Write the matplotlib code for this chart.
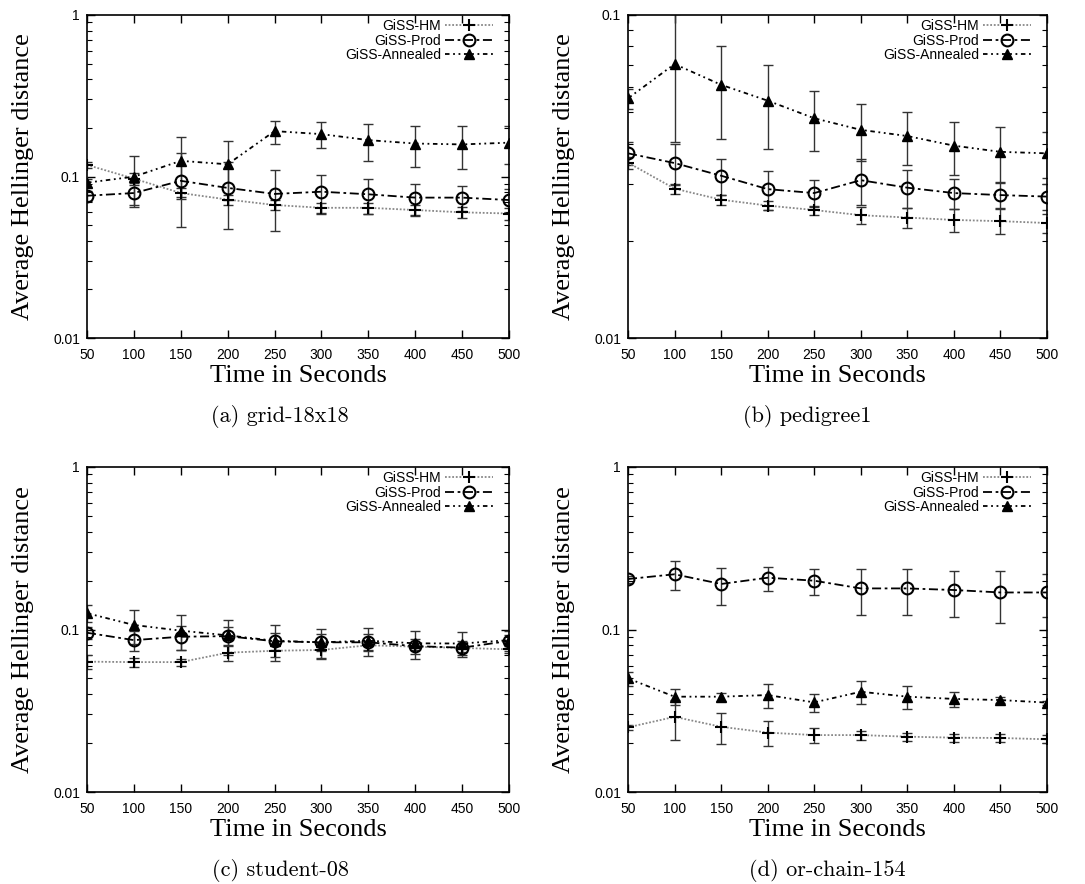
import numpy as np
import matplotlib.pyplot as plt
from matplotlib.ticker import LogLocator, NullFormatter, FixedLocator, FuncFormatter

# time budget (seconds) on the x axis
times = [50, 100, 150, 200, 250, 300, 350, 400, 450, 500]

# (a) grid-18x18
grid_hm = [0.118, 0.097, 0.079, 0.072, 0.0666, 0.064, 0.064, 0.062, 0.060, 0.059]
grid_hm_err = [0.005, 0.008, 0.006, 0.005, 0.005, 0.005, 0.005, 0.005, 0.005, 0.005]
grid_prod = [0.076, 0.079, 0.094, 0.085, 0.078, 0.0805, 0.0776, 0.074, 0.074, 0.0715]
grid_prod_err = [0.005, 0.012, 0.045, 0.038, 0.032, 0.021, 0.019, 0.016, 0.013, 0.012]
grid_ann = [0.0916, 0.0997, 0.125, 0.119, 0.191, 0.183, 0.168, 0.160, 0.158, 0.162]
grid_ann_err = [0.005, 0.035, 0.05, 0.047, 0.031, 0.033, 0.044, 0.045, 0.046, 0.043]

# (b) pedigree1
ped_hm = [0.0349, 0.0290, 0.0268, 0.0257, 0.0249, 0.0240, 0.0236, 0.0232, 0.0230, 0.0227]
ped_hm_err = [0.0015, 0.001, 0.001, 0.0008, 0.0008, 0.0014, 0.0017, 0.0019, 0.002, 0.0015]
ped_prod = [0.0373, 0.0348, 0.0318, 0.0289, 0.0281, 0.0308, 0.0292, 0.0281, 0.0277, 0.0274]
ped_prod_err = [0.003, 0.005, 0.004, 0.004, 0.0027, 0.005, 0.004, 0.003, 0.0025, 0.0025]
ped_ann = [0.0552, 0.0705, 0.0608, 0.0543, 0.0479, 0.0441, 0.0422, 0.0394, 0.0377, 0.0373]
ped_ann_err = [0.004, 0.030, 0.0196, 0.0157, 0.0101, 0.0089, 0.0078, 0.0074, 0.0072, 0.006]

# (c) student-08
stu_hm = [0.0634, 0.063, 0.063, 0.072, 0.074, 0.0748, 0.080, 0.0784, 0.077, 0.0755]
stu_hm_err = [0.006, 0.004, 0.003, 0.008, 0.006, 0.008, 0.005, 0.004, 0.004, 0.004]
stu_prod = [0.0955, 0.086, 0.0903, 0.091, 0.0846, 0.0834, 0.0834, 0.079, 0.0773, 0.085]
stu_prod_err = [0.008, 0.012, 0.015, 0.012, 0.01, 0.01, 0.01, 0.008, 0.008, 0.008]
stu_ann = [0.126, 0.1066, 0.0984, 0.092, 0.0853, 0.0834, 0.0853, 0.0822, 0.082, 0.086]
stu_ann_err = [0.015, 0.025, 0.024, 0.022, 0.021, 0.018, 0.017, 0.016, 0.014, 0.012]

# (d) or-chain-154
orc_hm = [0.025, 0.029, 0.0252, 0.0232, 0.0224, 0.0224, 0.0219, 0.0216, 0.0215, 0.0211]
orc_hm_err = [0.001, 0.008, 0.0055, 0.004, 0.0025, 0.0015, 0.0012, 0.0012, 0.0013, 0.0012]
orc_prod = [0.2045, 0.2187, 0.1906, 0.2083, 0.1997, 0.179, 0.179, 0.175, 0.169, 0.169]
orc_prod_err = [0.01, 0.044, 0.049, 0.035, 0.037, 0.056, 0.056, 0.055, 0.06, 0.05]
orc_ann = [0.050, 0.0386, 0.0386, 0.0395, 0.0356, 0.0414, 0.0386, 0.0374, 0.0368, 0.0355]
orc_ann_err = [0.005, 0.0045, 0.0022, 0.0066, 0.0045, 0.0068, 0.0063, 0.004, 0.0015, 0.001]

panels = [
    ("(a) grid-18x18", grid_hm, grid_hm_err, grid_prod, grid_prod_err, grid_ann, grid_ann_err, (0.01, 1)),
    ("(b) pedigree1", ped_hm, ped_hm_err, ped_prod, ped_prod_err, ped_ann, ped_ann_err, (0.01, 0.1)),
    ("(c) student-08", stu_hm, stu_hm_err, stu_prod, stu_prod_err, stu_ann, stu_ann_err, (0.01, 1)),
    ("(d) or-chain-154", orc_hm, orc_hm_err, orc_prod, orc_prod_err, orc_ann, orc_ann_err, (0.01, 1)),
]

W, H = 1085, 884
fig = plt.figure(figsize=(W / 100, H / 100), dpi=100)

# axes boxes in pixels: left, top, right, bottom
boxes = [(87, 15, 509, 338), (628, 15, 1047, 338), (87, 467, 509, 792), (628, 467, 1047, 792)]
captions_xy = [(280, 417), (807, 417), (280, 870), (827, 870)]

sans = "Liberation Sans"
serif = "Liberation Serif"

for (cap, hm, hme, pr, pre, an, ane, ylim), (l, t, r, b), (cx, cy) in zip(panels, boxes, captions_xy):
    ax = fig.add_axes([l / W, 1 - b / H, (r - l) / W, (b - t) / H])
    ax.set_yscale("log")

    ecol = "#333333"
    ax.errorbar(times, hm, yerr=hme, fmt="none", ecolor=ecol, elinewidth=1.0, capsize=3.5, capthick=1.0)
    ax.errorbar(times, pr, yerr=pre, fmt="none", ecolor=ecol, elinewidth=1.0, capsize=3.5, capthick=1.0)
    ax.errorbar(times, an, yerr=ane, fmt="none", ecolor=ecol, elinewidth=1.0, capsize=3.5, capthick=1.0)

    l1, = ax.plot(times, hm, color="#888888", linestyle=(0, (1, 1)), lw=1.3,
                  marker="+", ms=9, mew=1.5, mec="black", label="GiSS-HM")
    l2, = ax.plot(times, pr, color="black", linestyle=(0, (5, 2, 1.5, 2)), lw=1.3,
                  marker="o", ms=8.5, mew=1.5, mfc="none", mec="black", label="GiSS-Prod")
    l3, = ax.plot(times, an, color="black", linestyle=(0, (2.5, 2, 1, 2, 1, 2)), lw=1.3,
                  marker="^", ms=6.5, mfc="black", mec="black", label="GiSS-Annealed")

    ax.set_xlim(50, 500)
    ax.set_ylim(*ylim)
    ax.xaxis.set_major_locator(FixedLocator(times))
    ax.yaxis.set_major_locator(LogLocator(base=10, numticks=10))
    ax.yaxis.set_minor_locator(LogLocator(base=10, subs=np.arange(2, 10), numticks=20))
    ax.yaxis.set_major_formatter(FuncFormatter(lambda v, p: "%g" % v))
    ax.yaxis.set_minor_formatter(NullFormatter())
    ax.tick_params(which="both", direction="in", top=True, right=True, labelsize=10)
    ax.tick_params(which="major", length=6, width=1.0)
    ax.tick_params(which="minor", length=3.5, width=0.8)
    ax.tick_params(axis="x", pad=7)
    ax.tick_params(axis="y", pad=5)
    for lab in ax.get_xticklabels() + ax.get_yticklabels():
        lab.set_fontfamily(sans)
    for sp in ax.spines.values():
        sp.set_linewidth(1.2)

    ax.text(-0.152, 0.5, "Average Hellinger distance", transform=ax.transAxes, rotation=90,
            ha="center", va="center", fontsize=19, family=serif)
    ax.text(0.5, -0.118, "Time in Seconds", transform=ax.transAxes,
            ha="center", va="center", fontsize=19, family=serif)

    ax.legend(handles=[l1, l2, l3], loc="upper right", frameon=False, markerfirst=False,
              bbox_to_anchor=(1 - 8 / (r - l), 1 + 4 / (b - t)),
              handlelength=3.4, handletextpad=0.3, labelspacing=0.02, borderpad=0.2,
              borderaxespad=0.4, numpoints=1, prop={"family": sans, "size": 10})

    fig.text(cx / W, 1 - cy / H, cap, ha="center", va="center", fontsize=16, family="cmr10")

fig.savefig("out.png", dpi=100)
